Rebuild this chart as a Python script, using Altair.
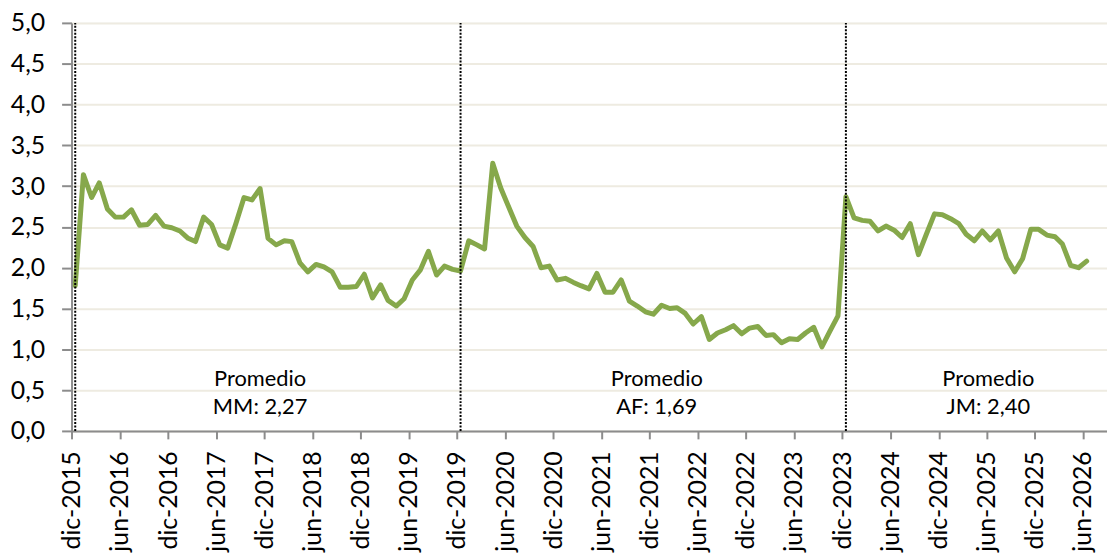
import altair as alt
import pandas as pd

# Monthly series, dic-2015 .. jun-2026
start_month = "2015-12"
values = [
    1.78,
    3.14, 2.86, 3.04, 2.72, 2.62, 2.62, 2.71, 2.52, 2.53, 2.64, 2.51, 2.49,
    2.45, 2.36, 2.32, 2.62, 2.53, 2.28, 2.24, 2.54, 2.86, 2.83, 2.97, 2.36,
    2.28, 2.33, 2.32, 2.06, 1.95, 2.04, 2.01, 1.95, 1.76, 1.76, 1.77, 1.92,
    1.63, 1.79, 1.60, 1.53, 1.62, 1.85, 1.97, 2.20, 1.91, 2.02, 1.98, 1.96,
    2.33, 2.28, 2.23, 3.28, 2.98, 2.74, 2.51, 2.37, 2.26, 2.00, 2.02, 1.85,
    1.87, 1.82, 1.78, 1.74, 1.93, 1.70, 1.70, 1.85, 1.59, 1.53, 1.46, 1.43,
    1.54, 1.50, 1.51, 1.44, 1.31, 1.40, 1.12, 1.20, 1.24, 1.29, 1.19, 1.26,
    1.28, 1.17, 1.18, 1.08, 1.13, 1.12, 1.20, 1.27, 1.03, 1.22, 1.41, 2.87,
    2.61, 2.58, 2.57, 2.45, 2.51, 2.46, 2.37, 2.54, 2.16, 2.41, 2.66, 2.65,
    2.60, 2.54, 2.41, 2.33, 2.45, 2.34, 2.45, 2.12, 1.95, 2.11, 2.47, 2.47,
    2.40, 2.38, 2.29, 2.03, 2.00, 2.08,
]
period_starts = ["2015-12-15", "2019-12-15", "2023-12-15"]
annot_dates = ["2017-11-15", "2021-12-28", "2025-06-07"]
annot_line1 = ["Promedio", "Promedio", "Promedio"]
annot_line2 = ["MM: 2,27", "AF: 1,69", "JM: 2,40"]
tick_years = list(range(2015, 2027))

dates = pd.date_range(start=start_month + "-01", periods=len(values), freq="MS") + pd.Timedelta(days=14)
df = pd.DataFrame({"fecha": dates, "valor": values})
rules_df = pd.DataFrame({"fecha": pd.to_datetime(period_starts), "y0": 0.0, "y1": 5.0})
ann_df = pd.DataFrame({
    "fecha": pd.to_datetime(annot_dates),
    "l1": annot_line1,
    "l2": annot_line2,
    "y1v": 0.63,
    "y2v": 0.29,
})

tick_vals = []
for yr in tick_years:
    if yr > 2015:
        tick_vals.append(alt.DateTime(year=yr, month=6, date=1))
    if yr < 2026:
        tick_vals.append(alt.DateTime(year=yr, month=12, date=1))

FONT = "Lato"
x_scale = alt.Scale(domain=[alt.DateTime(year=2015, month=12, date=1),
                            alt.DateTime(year=2026, month=8, date=31)], nice=False)
y_scale = alt.Scale(domain=[0, 5], nice=False)

x_axis = alt.Axis(
    values=tick_vals,
    labelExpr="(month(datum.value)==11 ? 'dic-' : 'jun-') + year(datum.value)",
    labelAngle=-90, labelFontSize=25, labelFont=FONT, labelColor="#000000",
    labelPadding=12, tickSize=8, tickColor="#8c8c8c", domainColor="#8c8c8c",
    domainWidth=2, tickWidth=2, grid=False, title=None, labelOverlap=False,
    labelAlign="right", labelBaseline="middle", labelFlush=False, labelBound=False,
)
y_axis = alt.Axis(
    values=[0, 0.5, 1, 1.5, 2, 2.5, 3, 3.5, 4, 4.5, 5],
    labelExpr="replace(format(datum.value, '.1f'), '.', ',')",
    labelFontSize=25, labelFont=FONT, labelColor="#000000", labelPadding=17,
    tickSize=10, tickColor="#8c8c8c", domainColor="#8c8c8c", domainWidth=2, tickWidth=2,
    grid=True, gridColor="#eeebe1", gridWidth=2, title=None, labelFlush=False,
)

line = alt.Chart(df).mark_line(color="#86a84b", strokeWidth=5, strokeJoin="round", strokeCap="round").encode(
    x=alt.X("fecha:T", scale=x_scale, axis=x_axis),
    y=alt.Y("valor:Q", scale=y_scale, axis=y_axis),
)
rules = alt.Chart(rules_df).mark_rule(color="#000000", strokeWidth=2, strokeDash=[2, 1.5]).encode(
    x=alt.X("fecha:T", scale=x_scale, axis=x_axis),
    y=alt.Y("y0:Q", scale=y_scale, axis=y_axis),
    y2="y1:Q",
)
t1 = alt.Chart(ann_df).mark_text(fontSize=22, font=FONT, color="#000000").encode(
    x=alt.X("fecha:T", scale=x_scale, axis=x_axis), y=alt.Y("y1v:Q", scale=y_scale, axis=y_axis), text="l1:N")
t2 = alt.Chart(ann_df).mark_text(fontSize=22, font=FONT, color="#000000").encode(
    x=alt.X("fecha:T", scale=x_scale, axis=x_axis), y=alt.Y("y2v:Q", scale=y_scale, axis=y_axis), text="l2:N")

chart = alt.layer(line, rules, t1, t2).properties(
    width=1043, height=411,
    autosize=alt.AutoSizeParams(type="none"),
    padding={"left": 64, "top": 13, "right": 0, "bottom": 125},
).configure_view(stroke=None).configure(background="white")

chart.save("out.html", embed_options={"renderer": "svg", "actions": False})
